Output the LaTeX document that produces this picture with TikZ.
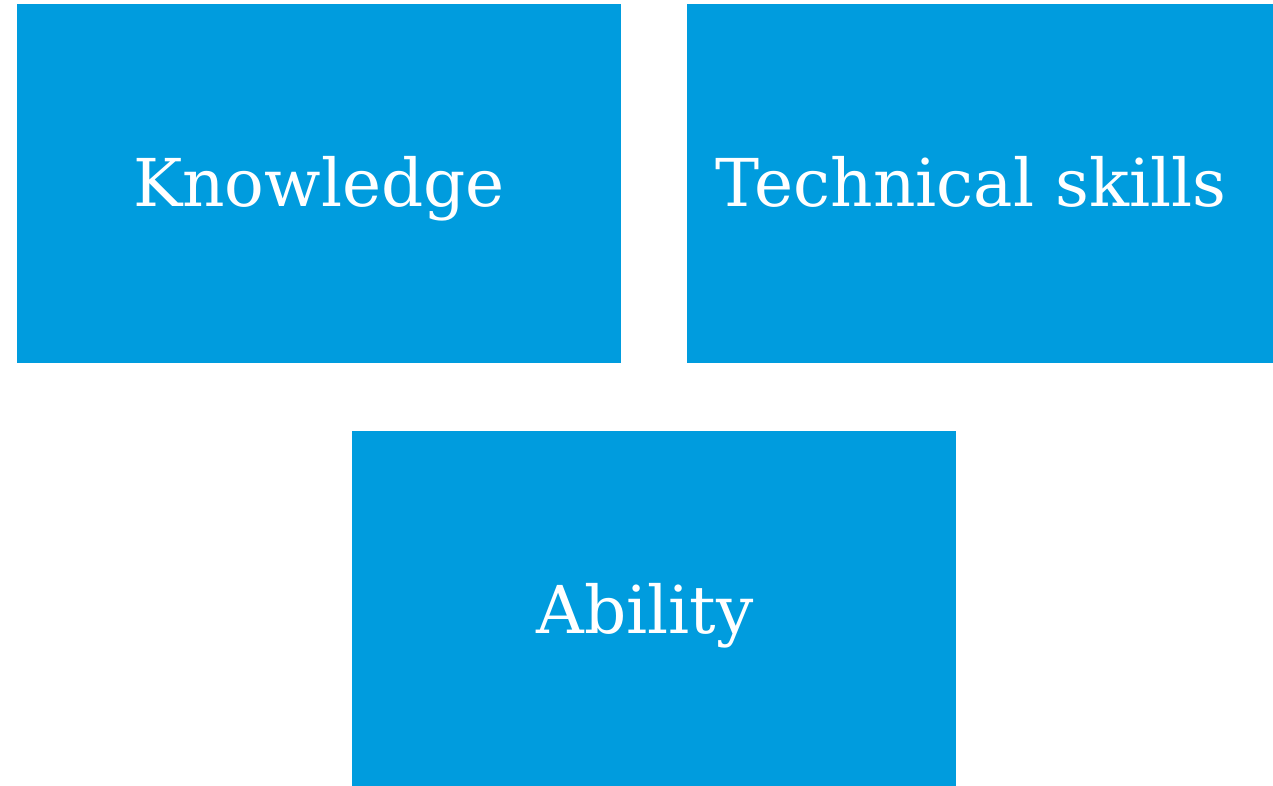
\documentclass[tikz,border=0pt]{standalone}
\usepackage{fontspec}
\setmainfont{DejaVu Serif}
\definecolor{boxblue}{RGB}{0,156,222}
\begin{document}
\begin{tikzpicture}[x=1pt,y=-1pt,
  card/.style={fill=boxblue,draw=none,inner sep=0pt,outer sep=0pt},
  label/.style={text=white,font=\fontsize{66}{74}\selectfont,anchor=base,inner sep=0pt}]
\useasboundingbox (0,0) rectangle (1273,786);
\fill[card] (17,4) rectangle (621,363);
\fill[card] (687,4) rectangle (1273,363);
\fill[card] (352,431) rectangle (956,786);
\node[label] (kt) at (319,207) {Knowledge};
\node[label] (tt) at (971,207) {Technical skills};
\node[label] (at) at (645,633) {Ability};
\end{tikzpicture}
\end{document}
